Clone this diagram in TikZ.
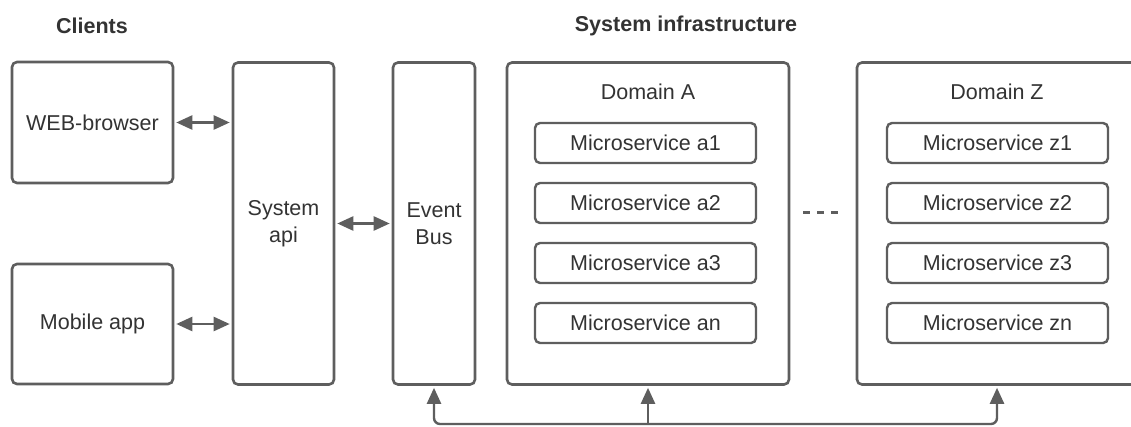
\documentclass[tikz,border=0pt]{standalone}
\usepackage{fontspec}
\setmainfont{Liberation Sans}
\usetikzlibrary{arrows.meta}
\definecolor{edge}{HTML}{5E5E5E}
\definecolor{txt}{HTML}{333333}
\begin{document}
\begin{tikzpicture}[x=1pt,y=-1pt,
  box/.style={draw=edge, line width=2.6pt, rounded corners=5pt, inner sep=0pt,
    text=txt, font=\fontsize{21.5}{27}\selectfont, align=center},
  msbox/.style={box, line width=2.4pt, minimum width=221pt, minimum height=40pt},
  lbl/.style={text=txt, font=\fontsize{21.5}{27}\selectfont, inner sep=0pt},
  title/.style={text=txt, font=\bfseries\fontsize{21.5}{26}\selectfont, inner sep=0pt},
  tip/.tip={Triangle[length=16pt,width=14pt]},
  link/.style={draw=edge, line width=2.4pt, tip-tip, shorten <=2pt, shorten >=2pt},
  up/.style={draw=edge, line width=2.4pt, -tip, shorten >=2pt},
  bus/.style={draw=edge, line width=2.4pt, tip-tip, rounded corners=6pt, shorten <=2pt, shorten >=2pt}]
\clip (0,0) rectangle (1131,426);
\fill[white] (0,0) rectangle (1131,426);
% titles
\node[title] (tclients) at (92,26) {Clients};
\node[title] (tinfra) at (686,26) {System infrastructure};
% client boxes
\node[box, minimum width=161pt, minimum height=121pt] (web) at (92.5,122.5) {WEB-browser};
\node[box, minimum width=161pt, minimum height=120pt] (mobile) at (92.5,324) {Mobile app};
% system api and event bus
\node[box, minimum width=101pt, minimum height=322pt] (sysapi) at (283.5,223.5) {System\\api};
\node[box, minimum width=82pt, minimum height=322pt] (eventbus) at (434,223.5) {Event\\Bus};
% domains
\node[box, minimum width=282pt, minimum height=322pt] (domA) at (648,223.5) {};
\node[lbl] (domAlbl) at (648,92) {Domain A};
\node[box, minimum width=280pt, minimum height=322pt] (domZ) at (997,223.5) {};
\node[lbl] (domZlbl) at (997,92) {Domain Z};
% microservices
\node[msbox] (a1) at (645.5,143) {Microservice a1};
\node[msbox] (a2) at (645.5,203) {Microservice a2};
\node[msbox] (a3) at (645.5,263) {Microservice a3};
\node[msbox] (an) at (645.5,323) {Microservice an};
\node[msbox] (z1) at (997.5,143) {Microservice z1};
\node[msbox] (z2) at (997.5,203) {Microservice z2};
\node[msbox] (z3) at (997.5,263) {Microservice z3};
\node[msbox] (zn) at (997.5,323) {Microservice zn};
% dots between domains
\coordinate (dotsL) at (803,212.5);
\coordinate (dotsR) at (838,212.5);
\draw[edge, line width=2.4pt, dash pattern=on 7pt off 7pt] (dotsL) -- (dotsR);
% connectors
\draw[link] (web.east) -- (sysapi.west |- web.east);
\draw[link] (mobile.east) -- (sysapi.west |- mobile.east);
\draw[link] (sysapi.east) -- (eventbus.west);
\coordinate (busline) at (0,424);
\draw[bus] (eventbus.south) -- (eventbus.south |- busline) -- (domZ.south |- busline) -- (domZ.south);
\draw[up] (domA.south |- busline) -- (domA.south);
\end{tikzpicture}
\end{document}
